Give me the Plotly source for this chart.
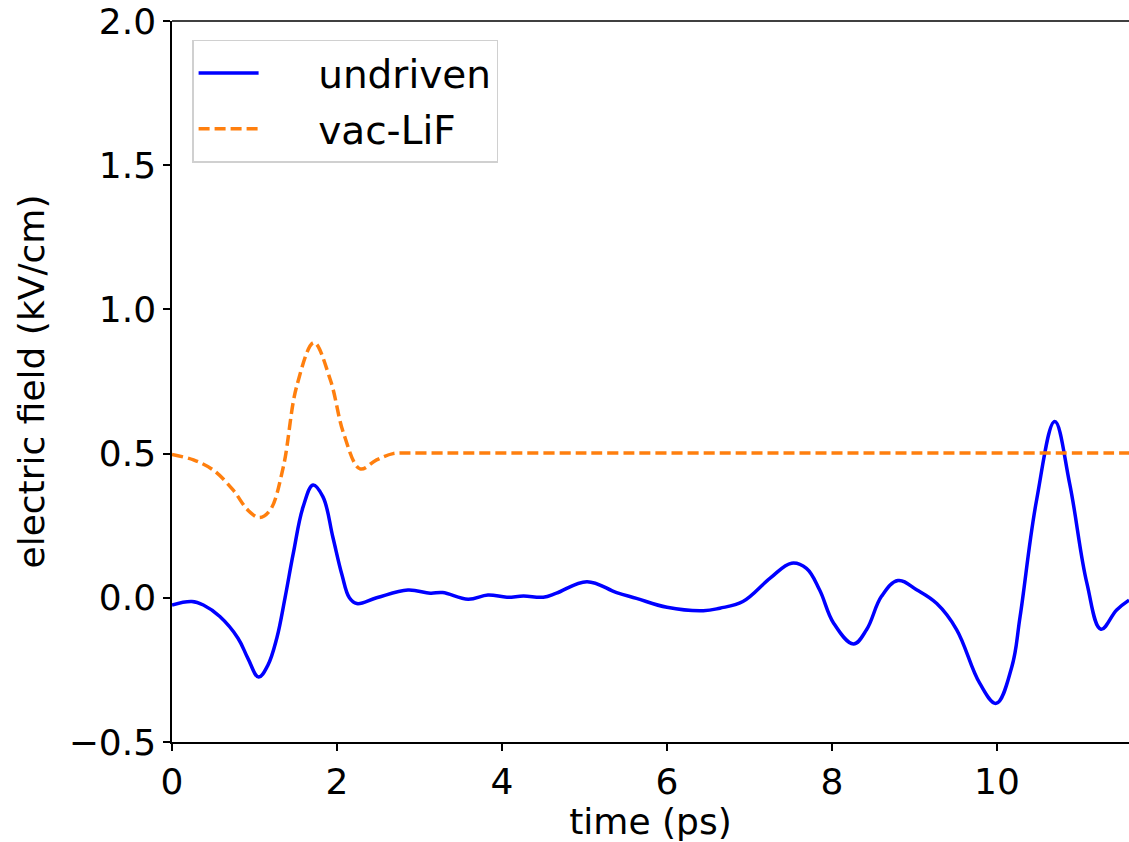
import plotly.graph_objects as go

# undriven (blue solid)
t_und = [0, 0.24, 0.38, 0.58, 0.80, 0.92, 1.05, 1.16, 1.27, 1.37, 1.47, 1.59, 1.71, 1.83, 1.95, 2.06, 2.15,
         2.24, 2.48, 2.86, 3.13, 3.28, 3.59, 3.83, 4.06, 4.26, 4.5, 4.66, 5.03, 5.39, 5.63,
         6.0, 6.44, 6.64, 6.92, 7.25, 7.51, 7.69, 7.85, 8.02, 8.26, 8.42, 8.6, 8.8, 9.03, 9.27,
         9.51, 9.79, 9.99, 10.18, 10.28, 10.48, 10.7, 10.88, 11.09, 11.26, 11.45, 11.6]
e_und = [-0.025, -0.013, -0.025, -0.065, -0.14, -0.21, -0.275, -0.235, -0.14, 0.0, 0.154, 0.316, 0.391, 0.35, 0.21, 0.08, 0.0,
         -0.02, 0.0, 0.027, 0.016, 0.018, -0.005, 0.01, 0.002, 0.006, 0.002, 0.016, 0.056, 0.018, -0.002,
         -0.033, -0.045, -0.036, -0.013, 0.068, 0.12, 0.102, 0.027, -0.088, -0.16, -0.11, 0.005, 0.06, 0.027, -0.02,
         -0.11, -0.296, -0.366, -0.239, -0.065, 0.339, 0.611, 0.397, 0.05, -0.109, -0.042, -0.008]

# vac-LiF (orange dashed)
t_vac = [0, 0.26, 0.5, 0.74, 0.92, 1.06, 1.19, 1.35, 1.51, 1.72, 1.92, 2.08, 2.28, 2.48, 2.68,
         2.9, 3.2, 3.5, 5.0, 7.0, 9.0, 11.0, 11.6]
e_vac = [0.497, 0.478, 0.443, 0.374, 0.304, 0.278, 0.304, 0.455, 0.732, 0.885, 0.755, 0.57, 0.447, 0.478, 0.5,
         0.502, 0.502, 0.502, 0.502, 0.502, 0.502, 0.502, 0.502]

x_ticks = [0, 2, 4, 6, 8, 10]
y_ticks = [-0.5, 0.0, 0.5, 1.0, 1.5, 2.0]
y_labels = ["\u22120.5", "0.0", "0.5", "1.0", "1.5", "2.0"]

pad = "\u2003\u2009\u2009"
fig = go.Figure()
fig.add_trace(go.Scatter(x=t_und, y=e_und, mode="lines", name=pad + "undriven", legendgroup="a",
                         line=dict(color="#0000ff", width=3.5, shape="spline", smoothing=1.1)))
fig.add_trace(go.Scatter(x=t_vac, y=e_vac, mode="lines", name=pad + "vac-LiF", legendgroup="b",
                         line=dict(color="#ff7f0e", width=3.5, dash="11px,5px", shape="spline", smoothing=1.0)))

font = "DejaVu Sans"
fig.update_layout(
    width=1129, height=842,
    margin=dict(l=172, r=0, t=21, b=100, autoexpand=False),
    plot_bgcolor="white", paper_bgcolor="white",
    font=dict(family=font, size=36, color="black"),
    showlegend=True,
    legend=dict(x=0.021, y=0.974, xanchor="left", yanchor="top",
                bgcolor="rgba(255,255,255,0.8)", bordercolor="#d0d0d0", borderwidth=1.5,
                font=dict(family=font, size=39, color="black"), itemwidth=60,
                tracegroupgap=2),
    xaxis=dict(range=[0, 11.6], tickvals=x_ticks, ticktext=[str(v) for v in x_ticks],
               showgrid=False, zeroline=False, showline=True, linecolor="black", linewidth=1.5,
               mirror=False, ticks="outside", ticklen=7, tickwidth=1.5, tickcolor="black",
               automargin=False, ticklabeloverflow="allow",
               title=dict(text="time (ps)", font=dict(family=font, size=36), standoff=0),
               tickfont=dict(family=font, size=36)),
    yaxis=dict(range=[-0.5, 2.0], tickvals=y_ticks, ticktext=y_labels,
               showgrid=False, zeroline=False, showline=True, linecolor="black", linewidth=1.5,
               ticks="outside", ticklen=7, tickwidth=1.5, tickcolor="black",
               automargin=False, ticklabeloverflow="allow",
               tickfont=dict(family=font, size=36)),
    annotations=[dict(text="electric field (kV/cm)", textangle=-90, xref="paper", yref="paper",
                      x=0, y=0.5, xanchor="center", yanchor="middle", xshift=-141,
                      showarrow=False, font=dict(family=font, size=36, color="black"))],
)
# top spine
fig.add_shape(type="line", xref="paper", yref="paper", x0=0, x1=1, y0=1, y1=1,
              line=dict(color="black", width=1.5))

fig.write_html("out.html", config={"displayModeBar": False},
               post_script="document.body.style.margin='0';document.body.style.overflow='hidden';")
